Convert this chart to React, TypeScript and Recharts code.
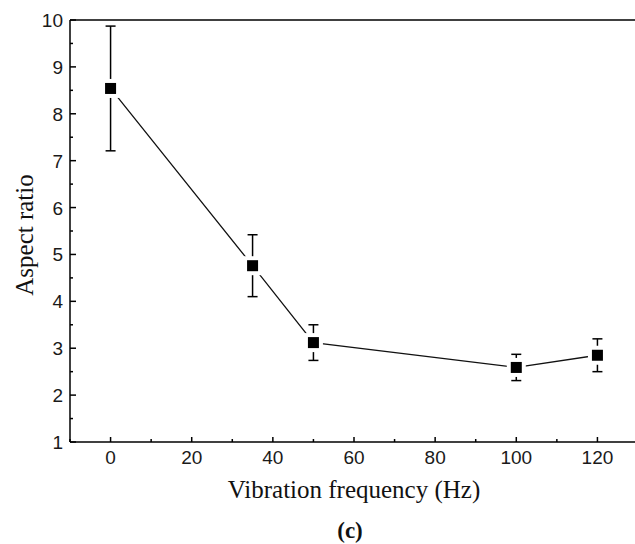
import React from 'react';
import { ComposedChart, Line, XAxis, YAxis, ErrorBar, ReferenceLine } from 'recharts';

const frequencies = [0, 35, 50, 100, 120];
const aspectRatios = [8.54, 4.76, 3.12, 2.59, 2.85];
const errors = [1.33, 0.66, 0.38, 0.28, 0.35];

const xTicks = [-10, 0, 10, 20, 30, 40, 50, 60, 70, 80, 90, 100, 110, 120, 130];
const xLabels = [0, 20, 40, 60, 80, 100, 120];
const yTicks = [1, 1.5, 2, 2.5, 3, 3.5, 4, 4.5, 5, 5.5, 6, 6.5, 7, 7.5, 8, 8.5, 9, 9.5, 10];

const data = frequencies.map((f, i) => ({ f, y: aspectRatios[i], err: errors[i] }));

const SANS = 'Liberation Sans, Arial, Helvetica, sans-serif';
const SERIF = 'Liberation Serif, Times New Roman, Times, serif';

const XTick = (props: any) => {
  const { x, y, payload } = props;
  const v = payload.value;
  const major = xLabels.includes(v);
  return (
    <g>
      <line x1={x} x2={x} y1={y} y2={y - (major ? 5 : 3)} stroke="#000" strokeWidth={1.5} />
      {major && (
        <text x={x} y={y + 22} textAnchor="middle" style={{ fontFamily: SANS, fontSize: 19 }} fill="#1a1a1a">
          {v}
        </text>
      )}
    </g>
  );
};

const YTick = (props: any) => {
  const { x, y, payload } = props;
  const v = payload.value;
  const major = Number.isInteger(v);
  return (
    <g>
      <line x1={x} x2={x + (major ? 6 : 3)} y1={y} y2={y} stroke="#000" strokeWidth={1.5} />
      {major && (
        <text x={x - 7} y={y + 7} textAnchor="end" style={{ fontFamily: SANS, fontSize: 19 }} fill="#1a1a1a">
          {v}
        </text>
      )}
    </g>
  );
};

const Square = (size: number, fill: string) => (props: any) => {
  const { cx, cy, index } = props;
  if (cx == null || cy == null) return <g key={index} />;
  return <rect key={index} x={cx - size / 2} y={cy - size / 2} width={size} height={size} fill={fill} />;
};

const XTitle = (props: any) => {
  const vb = props.viewBox;
  const cx = vb.x + vb.width / 2;
  return (
    <g>
      <text x={cx} y={vb.y + 56} textAnchor="middle" style={{ fontFamily: SERIF, fontSize: 25 }} fill="#111">
        Vibration frequency (Hz)
      </text>
      <text x={cx - 4} y={vb.y + 96} textAnchor="middle" style={{ fontFamily: SERIF, fontSize: 23, fontWeight: 'bold' }} fill="#111">
        (c)
      </text>
    </g>
  );
};

const YTitle = (props: any) => {
  const vb = props.viewBox;
  const cy = vb.y + vb.height / 2 + 4;
  return (
    <text
      x={33}
      y={cy}
      transform={`rotate(-90, 33, ${cy})`}
      textAnchor="middle"
      style={{ fontFamily: SERIF, fontSize: 25 }}
      fill="#111"
    >
      Aspect ratio
    </text>
  );
};

export default function App() {
  return (
    <div style={{ position: 'absolute', left: 0, top: 0, width: 635, height: 544, overflow: 'hidden', background: '#fff' }}>
      <ComposedChart width={638} height={544} data={data} margin={{ top: 20, right: 0, left: 0, bottom: 0 }}>
        <XAxis
          dataKey="f"
          type="number"
          domain={[-10, 130]}
          ticks={xTicks}
          interval={0}
          allowDataOverflow
          height={102}
          tickSize={0}
          tickMargin={0}
          tickLine={false}
          axisLine={{ stroke: '#000', strokeWidth: 1.5 }}
          tick={<XTick />}
          label={<XTitle />}
        />
        <YAxis
          type="number"
          domain={[1, 10]}
          ticks={yTicks}
          interval={0}
          allowDataOverflow
          width={70}
          tickSize={0}
          tickMargin={0}
          tickLine={false}
          axisLine={{ stroke: '#000', strokeWidth: 1.5 }}
          tick={<YTick />}
          label={<YTitle />}
        />
        <ReferenceLine y={10} stroke="#000" strokeWidth={1.5} />
        <ReferenceLine x={130} stroke="#000" strokeWidth={1.5} />
        <Line
          dataKey="y"
          stroke="#111"
          strokeWidth={1.3}
          dot={false}
          activeDot={false}
          isAnimationActive={false}
        />
        <Line
          dataKey="y"
          stroke="none"
          dot={Square(19, '#fff')}
          activeDot={false}
          isAnimationActive={false}
        />
        <Line
          dataKey="y"
          stroke="none"
          dot={Square(11, '#000')}
          activeDot={false}
          isAnimationActive={false}
        >
          <ErrorBar dataKey="err" width={5} stroke="#000" strokeWidth={1.5} direction="y" />
        </Line>
      </ComposedChart>
    </div>
  );
}
